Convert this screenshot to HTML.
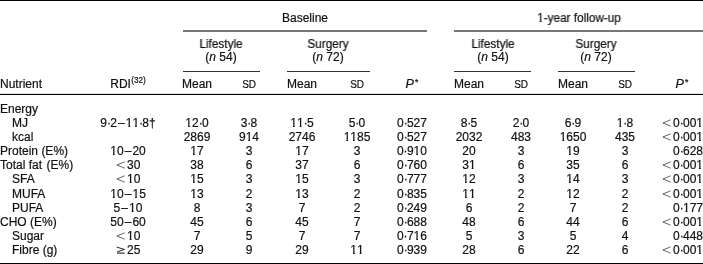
<!DOCTYPE html>
<html><head><meta charset="utf-8"><style>
html,body{margin:0;padding:0;background:#fff;}
body{width:703px;height:264px;position:relative;overflow:hidden;font-family:"Liberation Sans",sans-serif;font-size:12.0px;color:#111;-webkit-text-stroke:0.2px #111;}
.t{position:absolute;white-space:nowrap;line-height:14px;will-change:transform;}
.l{transform-origin:0 0;}
.c{text-align:center;transform-origin:50% 0;}
.r{text-align:right;transform-origin:100% 0;}
.lab{transform:scaleX(1);}
.hd{transform:scaleX(0.98);}
.ln{position:absolute;}
sup{font-size:8.2px;vertical-align:0;position:relative;top:-4.8px;margin-left:0.3px;}
i.P{font-size:12.6px;}
sup.ast{font-size:8.8px;top:-3.2px;margin-left:1.2px;}
.sc{font-size:10px;letter-spacing:-0.3px;}
.sp{margin-right:0px;}
.sp2{margin-right:1.2px;}
.dt{letter-spacing:-0.7px;margin-left:-0.1px;}
.da{margin:0 1.1px;}
.o{display:inline-block;clip-path:polygon(-3px -4px,10px -4px,10px 10px,4.4px 10px,4.4px 16px,2.7px 16px,2.7px 10px,-3px 10px);}
svg.lt,svg.ge{vertical-align:0;margin-right:1.5px;}
</style></head><body>
<div class="t c " style="left:234.80px;width:140px;top:11px">Baseline</div>
<div class="t c hd" style="left:508.80px;width:140px;top:11px"><span class="o">1</span>-year follow-up</div>
<div class="t c hd" style="left:151.30px;width:140px;top:37px">Lifestyle</div>
<div class="t c " style="left:151.30px;width:140px;top:50px">(<i>n</i> 54)</div>
<div class="t c hd" style="left:257.90px;width:140px;top:37px">Surgery</div>
<div class="t c " style="left:257.90px;width:140px;top:50px">(<i>n</i> 72)</div>
<div class="t c hd" style="left:422.50px;width:140px;top:37px">Lifestyle</div>
<div class="t c " style="left:422.50px;width:140px;top:50px">(<i>n</i> 54)</div>
<div class="t c hd" style="left:525.80px;width:140px;top:37px">Surgery</div>
<div class="t c " style="left:525.80px;width:140px;top:50px">(<i>n</i> 72)</div>
<div class="t l " style="left:0.30px;top:77px">Nutrient</div>
<div class="t c " style="left:57.90px;width:140px;top:77px">RDI<sup>(32)</sup></div>
<div class="t c " style="left:127.30px;width:140px;top:77px">Mean</div>
<div class="t c " style="left:179.40px;width:140px;top:77px"><span class="sc">SD</span></div>
<div class="t c " style="left:231.60px;width:140px;top:77px">Mean</div>
<div class="t c " style="left:286.60px;width:140px;top:77px"><span class="sc">SD</span></div>
<div class="t c " style="left:342.00px;width:140px;top:77px"><i class="P">P</i><sup class="ast">*</sup></div>
<div class="t c " style="left:399.00px;width:140px;top:77px">Mean</div>
<div class="t c " style="left:451.20px;width:140px;top:77px"><span class="sc">SD</span></div>
<div class="t c " style="left:503.00px;width:140px;top:77px">Mean</div>
<div class="t c " style="left:555.30px;width:140px;top:77px"><span class="sc">SD</span></div>
<div class="t c " style="left:612.30px;width:140px;top:77px"><i class="P">P</i><sup class="ast">*</sup></div>
<div class="t l lab" style="left:0.30px;top:102px">Energy</div>
<div class="t l lab" style="left:12.30px;top:116px">MJ</div>
<div class="t c " style="left:57.90px;width:140px;top:116px">9<span class="dt">&#183;</span>2<span class="da">&#8211;</span><span class="o">1</span><span class="o">1</span><span class="dt">&#183;</span>8&#8224;</div>
<div class="t c " style="left:127.30px;width:140px;top:116px"><span class="o">1</span>2<span class="dt">&#183;</span>0</div>
<div class="t c " style="left:179.40px;width:140px;top:116px">3<span class="dt">&#183;</span>8</div>
<div class="t c " style="left:231.60px;width:140px;top:116px"><span class="o">1</span><span class="o">1</span><span class="dt">&#183;</span>5</div>
<div class="t c " style="left:286.60px;width:140px;top:116px">5<span class="dt">&#183;</span>0</div>
<div class="t c " style="left:342.00px;width:140px;top:116px">0<span class="dt">&#183;</span>527</div>
<div class="t c " style="left:399.00px;width:140px;top:116px">8<span class="dt">&#183;</span>5</div>
<div class="t c " style="left:451.20px;width:140px;top:116px">2<span class="dt">&#183;</span>0</div>
<div class="t c " style="left:503.00px;width:140px;top:116px">6<span class="dt">&#183;</span>9</div>
<div class="t c " style="left:555.30px;width:140px;top:116px"><span class="o">1</span><span class="dt">&#183;</span>8</div>
<div class="t r " style="left:562.60px;width:140px;top:116px"><svg class="lt" width="10" height="8" viewBox="0 0 10 8"><path d="M8.7 0.8 L0.9 4.0 L8.7 7.2" fill="none" stroke="#333" stroke-width="0.75"/></svg>0<span class="dt">&#183;</span>00<span class="o">1</span></div>
<div class="t l lab" style="left:12.30px;top:130px">kcal</div>
<div class="t c " style="left:127.30px;width:140px;top:130px">2869</div>
<div class="t c " style="left:179.40px;width:140px;top:130px">9<span class="o">1</span>4</div>
<div class="t c " style="left:231.60px;width:140px;top:130px">2746</div>
<div class="t c " style="left:286.60px;width:140px;top:130px"><span class="o">1</span><span class="o">1</span>85</div>
<div class="t c " style="left:342.00px;width:140px;top:130px">0<span class="dt">&#183;</span>527</div>
<div class="t c " style="left:399.00px;width:140px;top:130px">2032</div>
<div class="t c " style="left:451.20px;width:140px;top:130px">483</div>
<div class="t c " style="left:503.00px;width:140px;top:130px"><span class="o">1</span>650</div>
<div class="t c " style="left:555.30px;width:140px;top:130px">435</div>
<div class="t r " style="left:562.60px;width:140px;top:130px"><svg class="lt" width="10" height="8" viewBox="0 0 10 8"><path d="M8.7 0.8 L0.9 4.0 L8.7 7.2" fill="none" stroke="#333" stroke-width="0.75"/></svg>0<span class="dt">&#183;</span>00<span class="o">1</span></div>
<div class="t l lab" style="left:0.30px;top:144px">Protein<span class="sp"> </span>(E%)</div>
<div class="t c " style="left:57.90px;width:140px;top:144px"><span class="o">1</span>0<span class="da">&#8211;</span>20</div>
<div class="t c " style="left:127.30px;width:140px;top:144px"><span class="o">1</span>7</div>
<div class="t c " style="left:179.40px;width:140px;top:144px">3</div>
<div class="t c " style="left:231.60px;width:140px;top:144px"><span class="o">1</span>7</div>
<div class="t c " style="left:286.60px;width:140px;top:144px">3</div>
<div class="t c " style="left:342.00px;width:140px;top:144px">0<span class="dt">&#183;</span>9<span class="o">1</span>0</div>
<div class="t c " style="left:399.00px;width:140px;top:144px">20</div>
<div class="t c " style="left:451.20px;width:140px;top:144px">3</div>
<div class="t c " style="left:503.00px;width:140px;top:144px"><span class="o">1</span>9</div>
<div class="t c " style="left:555.30px;width:140px;top:144px">3</div>
<div class="t r " style="left:562.60px;width:140px;top:144px">0<span class="dt">&#183;</span>628</div>
<div class="t l lab" style="left:0.30px;top:158px">Total fat<span class="sp2"> </span>(E%)</div>
<div class="t c " style="left:57.90px;width:140px;top:158px"><svg class="lt" width="10" height="8" viewBox="0 0 10 8"><path d="M8.7 0.8 L0.9 4.0 L8.7 7.2" fill="none" stroke="#333" stroke-width="0.75"/></svg>30</div>
<div class="t c " style="left:127.30px;width:140px;top:158px">38</div>
<div class="t c " style="left:179.40px;width:140px;top:158px">6</div>
<div class="t c " style="left:231.60px;width:140px;top:158px">37</div>
<div class="t c " style="left:286.60px;width:140px;top:158px">6</div>
<div class="t c " style="left:342.00px;width:140px;top:158px">0<span class="dt">&#183;</span>760</div>
<div class="t c " style="left:399.00px;width:140px;top:158px">3<span class="o">1</span></div>
<div class="t c " style="left:451.20px;width:140px;top:158px">6</div>
<div class="t c " style="left:503.00px;width:140px;top:158px">35</div>
<div class="t c " style="left:555.30px;width:140px;top:158px">6</div>
<div class="t r " style="left:562.60px;width:140px;top:158px"><svg class="lt" width="10" height="8" viewBox="0 0 10 8"><path d="M8.7 0.8 L0.9 4.0 L8.7 7.2" fill="none" stroke="#333" stroke-width="0.75"/></svg>0<span class="dt">&#183;</span>00<span class="o">1</span></div>
<div class="t l lab" style="left:12.30px;top:172px">SFA</div>
<div class="t c " style="left:57.90px;width:140px;top:172px"><svg class="lt" width="10" height="8" viewBox="0 0 10 8"><path d="M8.7 0.8 L0.9 4.0 L8.7 7.2" fill="none" stroke="#333" stroke-width="0.75"/></svg><span class="o">1</span>0</div>
<div class="t c " style="left:127.30px;width:140px;top:172px"><span class="o">1</span>5</div>
<div class="t c " style="left:179.40px;width:140px;top:172px">3</div>
<div class="t c " style="left:231.60px;width:140px;top:172px"><span class="o">1</span>5</div>
<div class="t c " style="left:286.60px;width:140px;top:172px">3</div>
<div class="t c " style="left:342.00px;width:140px;top:172px">0<span class="dt">&#183;</span>777</div>
<div class="t c " style="left:399.00px;width:140px;top:172px"><span class="o">1</span>2</div>
<div class="t c " style="left:451.20px;width:140px;top:172px">3</div>
<div class="t c " style="left:503.00px;width:140px;top:172px"><span class="o">1</span>4</div>
<div class="t c " style="left:555.30px;width:140px;top:172px">3</div>
<div class="t r " style="left:562.60px;width:140px;top:172px"><svg class="lt" width="10" height="8" viewBox="0 0 10 8"><path d="M8.7 0.8 L0.9 4.0 L8.7 7.2" fill="none" stroke="#333" stroke-width="0.75"/></svg>0<span class="dt">&#183;</span>00<span class="o">1</span></div>
<div class="t l lab" style="left:12.30px;top:187px">MUFA</div>
<div class="t c " style="left:57.90px;width:140px;top:187px"><span class="o">1</span>0<span class="da">&#8211;</span><span class="o">1</span>5</div>
<div class="t c " style="left:127.30px;width:140px;top:187px"><span class="o">1</span>3</div>
<div class="t c " style="left:179.40px;width:140px;top:187px">2</div>
<div class="t c " style="left:231.60px;width:140px;top:187px"><span class="o">1</span>3</div>
<div class="t c " style="left:286.60px;width:140px;top:187px">2</div>
<div class="t c " style="left:342.00px;width:140px;top:187px">0<span class="dt">&#183;</span>835</div>
<div class="t c " style="left:399.00px;width:140px;top:187px"><span class="o">1</span><span class="o">1</span></div>
<div class="t c " style="left:451.20px;width:140px;top:187px">2</div>
<div class="t c " style="left:503.00px;width:140px;top:187px"><span class="o">1</span>2</div>
<div class="t c " style="left:555.30px;width:140px;top:187px">2</div>
<div class="t r " style="left:562.60px;width:140px;top:187px"><svg class="lt" width="10" height="8" viewBox="0 0 10 8"><path d="M8.7 0.8 L0.9 4.0 L8.7 7.2" fill="none" stroke="#333" stroke-width="0.75"/></svg>0<span class="dt">&#183;</span>00<span class="o">1</span></div>
<div class="t l lab" style="left:12.30px;top:201px">PUFA</div>
<div class="t c " style="left:57.90px;width:140px;top:201px">5<span class="da">&#8211;</span><span class="o">1</span>0</div>
<div class="t c " style="left:127.30px;width:140px;top:201px">8</div>
<div class="t c " style="left:179.40px;width:140px;top:201px">3</div>
<div class="t c " style="left:231.60px;width:140px;top:201px">7</div>
<div class="t c " style="left:286.60px;width:140px;top:201px">2</div>
<div class="t c " style="left:342.00px;width:140px;top:201px">0<span class="dt">&#183;</span>249</div>
<div class="t c " style="left:399.00px;width:140px;top:201px">6</div>
<div class="t c " style="left:451.20px;width:140px;top:201px">2</div>
<div class="t c " style="left:503.00px;width:140px;top:201px">7</div>
<div class="t c " style="left:555.30px;width:140px;top:201px">2</div>
<div class="t r " style="left:562.60px;width:140px;top:201px">0<span class="dt">&#183;</span><span class="o">1</span>77</div>
<div class="t l lab" style="left:0.30px;top:215px">CHO<span class="sp"> </span>(E%)</div>
<div class="t c " style="left:57.90px;width:140px;top:215px">50<span class="da">&#8211;</span>60</div>
<div class="t c " style="left:127.30px;width:140px;top:215px">45</div>
<div class="t c " style="left:179.40px;width:140px;top:215px">6</div>
<div class="t c " style="left:231.60px;width:140px;top:215px">45</div>
<div class="t c " style="left:286.60px;width:140px;top:215px">7</div>
<div class="t c " style="left:342.00px;width:140px;top:215px">0<span class="dt">&#183;</span>688</div>
<div class="t c " style="left:399.00px;width:140px;top:215px">48</div>
<div class="t c " style="left:451.20px;width:140px;top:215px">6</div>
<div class="t c " style="left:503.00px;width:140px;top:215px">44</div>
<div class="t c " style="left:555.30px;width:140px;top:215px">6</div>
<div class="t r " style="left:562.60px;width:140px;top:215px"><svg class="lt" width="10" height="8" viewBox="0 0 10 8"><path d="M8.7 0.8 L0.9 4.0 L8.7 7.2" fill="none" stroke="#333" stroke-width="0.75"/></svg>0<span class="dt">&#183;</span>00<span class="o">1</span></div>
<div class="t l lab" style="left:12.30px;top:229px">Sugar</div>
<div class="t c " style="left:57.90px;width:140px;top:229px"><svg class="lt" width="10" height="8" viewBox="0 0 10 8"><path d="M8.7 0.8 L0.9 4.0 L8.7 7.2" fill="none" stroke="#333" stroke-width="0.75"/></svg><span class="o">1</span>0</div>
<div class="t c " style="left:127.30px;width:140px;top:229px">7</div>
<div class="t c " style="left:179.40px;width:140px;top:229px">5</div>
<div class="t c " style="left:231.60px;width:140px;top:229px">7</div>
<div class="t c " style="left:286.60px;width:140px;top:229px">7</div>
<div class="t c " style="left:342.00px;width:140px;top:229px">0<span class="dt">&#183;</span>7<span class="o">1</span>6</div>
<div class="t c " style="left:399.00px;width:140px;top:229px">5</div>
<div class="t c " style="left:451.20px;width:140px;top:229px">3</div>
<div class="t c " style="left:503.00px;width:140px;top:229px">5</div>
<div class="t c " style="left:555.30px;width:140px;top:229px">4</div>
<div class="t r " style="left:562.60px;width:140px;top:229px">0<span class="dt">&#183;</span>448</div>
<div class="t l lab" style="left:12.30px;top:243px">Fibre<span class="sp"> </span>(g)</div>
<div class="t c " style="left:57.90px;width:140px;top:243px"><svg class="ge" width="10" height="8" viewBox="0 0 10 8"><path d="M0.6 1.1 L8.4 3.4 L1.1 6.0" fill="none" stroke="#111" stroke-width="0.9"/><path d="M1.0 7.1 L8.7 7.1" fill="none" stroke="#111" stroke-width="1"/></svg>25</div>
<div class="t c " style="left:127.30px;width:140px;top:243px">29</div>
<div class="t c " style="left:179.40px;width:140px;top:243px">9</div>
<div class="t c " style="left:231.60px;width:140px;top:243px">29</div>
<div class="t c " style="left:286.60px;width:140px;top:243px"><span class="o">1</span><span class="o">1</span></div>
<div class="t c " style="left:342.00px;width:140px;top:243px">0<span class="dt">&#183;</span>939</div>
<div class="t c " style="left:399.00px;width:140px;top:243px">28</div>
<div class="t c " style="left:451.20px;width:140px;top:243px">6</div>
<div class="t c " style="left:503.00px;width:140px;top:243px">22</div>
<div class="t c " style="left:555.30px;width:140px;top:243px">6</div>
<div class="t r " style="left:562.60px;width:140px;top:243px"><svg class="lt" width="10" height="8" viewBox="0 0 10 8"><path d="M8.7 0.8 L0.9 4.0 L8.7 7.2" fill="none" stroke="#333" stroke-width="0.75"/></svg>0<span class="dt">&#183;</span>00<span class="o">1</span></div>
<div class="ln" style="left:0px;top:0px;width:703.0px;height:1px;background:#000"></div>
<div class="ln" style="left:183px;top:30px;width:243.7px;height:2px;background:#777"></div>
<div class="ln" style="left:454.3px;top:30px;width:248.7px;height:2px;background:#777"></div>
<div class="ln" style="left:183px;top:71px;width:76.6px;height:1px;background:#333"></div>
<div class="ln" style="left:287px;top:71px;width:82.9px;height:1px;background:#333"></div>
<div class="ln" style="left:454.1px;top:71px;width:76.8px;height:1px;background:#333"></div>
<div class="ln" style="left:558px;top:71px;width:76.9px;height:1px;background:#333"></div>
<div class="ln" style="left:0px;top:93px;width:703.0px;height:1px;background:#e2e2e2"></div>
<div class="ln" style="left:0px;top:94px;width:703.0px;height:1px;background:#000"></div>
<div class="ln" style="left:0px;top:263px;width:703.0px;height:1px;background:#000"></div>
</body></html>
